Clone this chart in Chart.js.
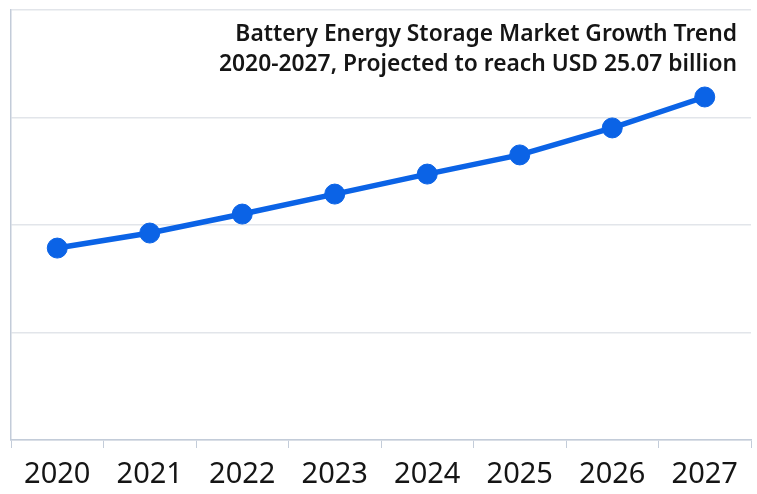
<!DOCTYPE html>
<html>
<head>
<meta charset="utf-8">
<script src="https://cdn.jsdelivr.net/npm/chart.js@4/dist/chart.umd.min.js"></script>
<style>
html,body{margin:0;padding:0;background:#fff;}
</style>
</head>
<body>
<canvas id="c" width="757" height="494"></canvas>
<script>
const years = ["2020","2021","2022","2023","2024","2025","2026","2027"];
const marketSize = [16.23, 17.11, 18.22, 19.39, 20.56, 21.68, 23.26, 25.07];
const titleLines = ["Battery Energy Storage Market Growth Trend", "2020-2027, Projected to reach USD 25.07 billion"];
const yMin = 5, yMax = 30.16;

const titlePlugin = {
  id: 'rightTitle',
  afterDraw(chart) {
    const ctx = chart.ctx;
    ctx.save();
    ctx.fillStyle = '#151515';
    ctx.font = '600 22.8px "Noto Sans", sans-serif';
    ctx.textAlign = 'right';
    ctx.textBaseline = 'alphabetic';
    ctx.fillText(titleLines[0], 737, 41);
    ctx.fillText(titleLines[1], 737, 71);
    ctx.restore();
  }
};

new Chart(document.getElementById('c'), {
  type: 'line',
  data: {
    labels: years,
    datasets: [{
      data: marketSize,
      borderColor: '#0b63e6',
      backgroundColor: '#0b63e6',
      borderWidth: 5.5,
      pointRadius: 10,
      pointBorderWidth: 1,
      pointBorderColor: '#0b63e6',
      pointBackgroundColor: '#0b63e6',
      tension: 0,
      clip: false
    }]
  },
  options: {
    responsive: false,
    animation: false,
    devicePixelRatio: 1,
    layout: { autoPadding: false, padding: { top: 10, right: 6, left: 0, bottom: 0 } },
    plugins: { legend: { display: false }, title: { display: false }, tooltip: { enabled: false } },
    scales: {
      x: {
        offset: true,
        grid: { display: true, drawOnChartArea: false, drawTicks: true, tickLength: 8, color: '#c3ccd9', offset: true },
        border: { display: true, color: '#c3ccd9', width: 1.5 },
        ticks: { color: '#151515', font: { family: '"Noto Sans", sans-serif', size: 29 }, padding: 9, maxRotation: 0 },
        afterFit(s) { s.height = 54; }
      },
      y: {
        min: yMin, max: yMax,
        grid: { color: '#e2e5ea', lineWidth: 1.5, drawTicks: false },
        border: { display: true, color: '#c3ccd9', width: 1.5 },
        ticks: { display: false, count: 5 },
        afterFit(s) { s.width = 11; }
      }
    }
  },
  plugins: [titlePlugin]
});
</script>
</body>
</html>
